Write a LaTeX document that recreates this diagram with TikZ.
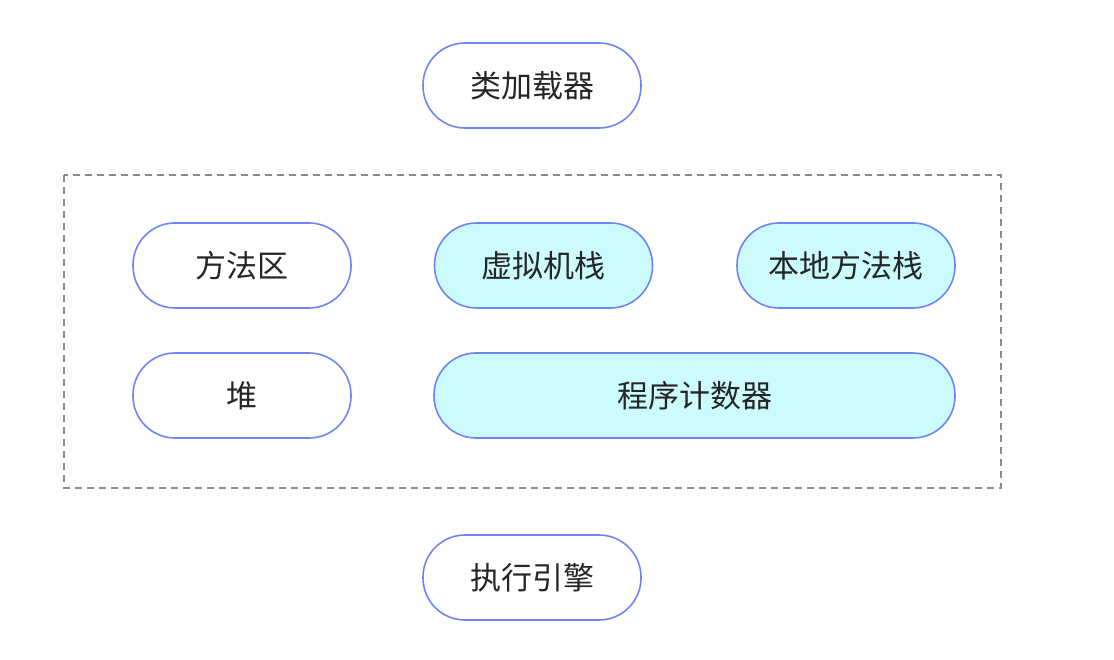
\documentclass[tikz,border=0pt]{standalone}
\usepackage{fontspec}
\newfontfamily\cjk{Noto Sans CJK SC}
\definecolor{bordblue}{HTML}{6F84F5}
\definecolor{cyanfill}{HTML}{CCFBFE}
\definecolor{dashgray}{HTML}{8A8A8A}
\begin{document}
\begin{tikzpicture}[x=1pt,y=-1pt,
  pill/.style={draw=bordblue, line width=1.6pt, rounded corners=42pt, fill=white,
    minimum height=85pt, minimum width=218pt, inner sep=0pt,
    font=\cjk\fontsize{31}{34}\selectfont, text=black!85},
  cpill/.style={pill, fill=cyanfill}]
\useasboundingbox (0,0) rectangle (1114,660);
\draw[dashgray, line width=1.2pt, dash pattern=on 7pt off 5pt] (64,175) rectangle (1001,488);
\node[pill] (cl) at (532,85.5) {类加载器};
\node[pill] (ma) at (242,265.5) {方法区};
\node[cpill] (vs) at (543.5,265.5) {虚拟机栈};
\node[cpill] (ns) at (846,265.5) {本地方法栈};
\node[pill] (hp) at (242,395.5) {堆};
\node[cpill, minimum width=521pt] (pc) at (694.5,395.5) {程序计数器};
\node[pill] (ee) at (532,577.5) {执行引擎};
\end{tikzpicture}
\end{document}
